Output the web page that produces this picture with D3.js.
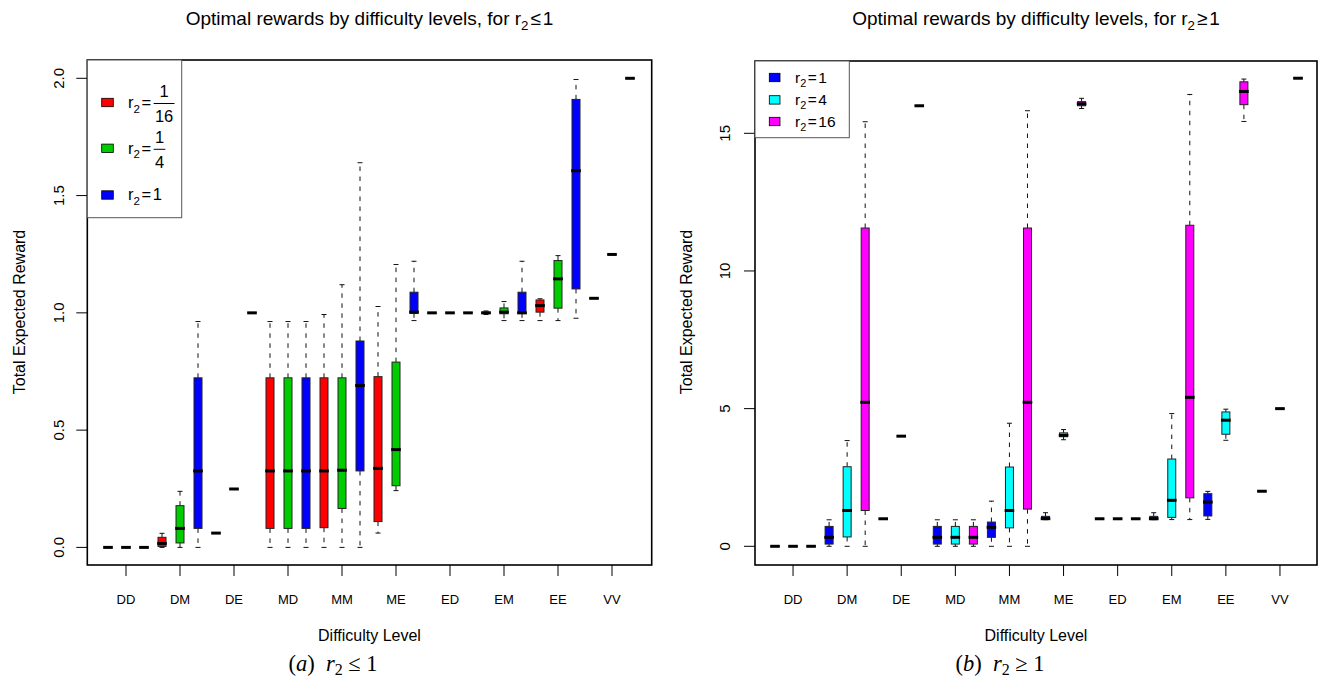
<!DOCTYPE html>
<html><head><meta charset="utf-8">
<script src="https://cdn.jsdelivr.net/npm/d3@7"></script>
<style>
body{margin:0;background:#fff}
svg{display:block}
text{font-family:"Liberation Sans",Arial,Helvetica,sans-serif;fill:#000}
</style>
</head><body>
<svg id="chart" width="1322" height="682"></svg>
<script>
// ---------------- DATA ----------------
const categories = ["DD","DM","DE","MD","MM","ME","ED","EM","EE","VV"];
// each row: [lower whisker, Q1, median, Q3, upper whisker], one row per category
const r2_1_16 = [
  [0,0,0,0,0],
  [0,0.004,0.017,0.043,0.06],
  [0.061,0.061,0.061,0.061,0.061],
  [0,0.081,0.326,0.723,0.963],
  [0,0.084,0.326,0.723,0.993],
  [0.061,0.11,0.337,0.728,1.027],
  [1,1,1,1,1],
  [0.993,0.997,1.0,1.003,1.008],
  [0.967,1.003,1.031,1.055,1.06],
  [1.062,1.062,1.062,1.062,1.062]
];
const r2_1_4 = [
  [0,0,0,0,0],
  [0,0.019,0.081,0.178,0.239],
  [0.249,0.249,0.249,0.249,0.249],
  [0,0.081,0.326,0.723,0.963],
  [0,0.166,0.329,0.723,1.12],
  [0.242,0.263,0.417,0.79,1.206],
  [1,1,1,1,1],
  [0.967,0.996,1.003,1.021,1.048],
  [0.967,1.02,1.145,1.223,1.244],
  [1.249,1.249,1.249,1.249,1.249]
];
const r2_1 = [
  [0,0,0,0,0],
  [0,0.081,0.326,0.723,0.963],
  [1,1,1,1,1],
  [0,0.081,0.326,0.723,0.963],
  [0,0.326,0.69,0.88,1.64],
  [0.967,0.998,1.003,1.088,1.22],
  [1,1,1,1,1],
  [0.967,0.998,1.0,1.088,1.22],
  [0.977,1.102,1.606,1.91,1.995],
  [2,2,2,2,2]
];
const r2_4 = [
  [0,0,0,0,0],
  [0,0.34,1.30,2.89,3.84],
  [4,4,4,4,4],
  [0,0.081,0.326,0.723,0.963],
  [0,0.67,1.30,2.88,4.47],
  [3.87,3.98,4.03,4.12,4.24],
  [1,1,1,1,1],
  [0.97,1.05,1.67,3.17,4.82],
  [3.85,4.07,4.58,4.88,4.98],
  [5,5,5,5,5]
];
const r2_16 = [
  [0,0,0,0,0],
  [0,1.30,5.23,11.56,15.42],
  [16,16,16,16,16],
  [0,0.081,0.326,0.723,0.963],
  [0,1.35,5.23,11.56,15.82],
  [15.9,16.0,16.07,16.15,16.27],
  [1,1,1,1,1],
  [0.97,1.76,5.41,11.66,16.41],
  [15.43,16.04,16.52,16.87,16.97],
  [17,17,17,17,17]
];
const leftNames = ["1/16","1/4","1"];
const rightNames = ["1","4","16"];
const leftColors = ["#ff0000","#00cd00","#0000ff"];
const rightColors = ["#0000ff","#00ffff","#ff00ff"];
const leftYTicks = [0,0.5,1,1.5,2];
const rightYTicks = [0,5,10,15];

// ---------------- DRAWING ----------------
const svg = d3.select("#chart");

function r2Text(sel, fs, rel, value){
  sel.append("tspan").text("r");
  sel.append("tspan").attr("font-size",fs*0.7).attr("dy",fs*0.28).text("2");
  sel.append("tspan").attr("dy",-fs*0.28).attr("dx",fs*0.1).text(rel);
  if(value!==null) sel.append("tspan").attr("dx",fs*0.1).text(value);
  return sel;
}

function drawPanel(p){
  const g = svg.append("g");
  const F = p.frame;
  const x = d3.scaleLinear().domain([1,30]).range(p.boxX);
  const y = d3.scaleLinear().domain(p.yDomain).range(p.yRange);
  const bw = 8;

  // boxes
  p.series.forEach((data,s)=>{
    data.forEach((st,c)=>{
      const cx = x(c*3+s+1);
      const [lo,q1,md,q3,hi] = st;
      const bg = g.append("g");
      if(hi>q3) bg.append("line").attr("x1",cx).attr("x2",cx).attr("y1",y(q3)).attr("y2",y(hi))
        .attr("stroke","#111").attr("stroke-width",1).attr("stroke-dasharray","4.5,5.5");
      if(q1>lo) bg.append("line").attr("x1",cx).attr("x2",cx).attr("y1",y(q1)).attr("y2",y(lo))
        .attr("stroke","#111").attr("stroke-width",1).attr("stroke-dasharray","4.5,5.5");
      [lo,hi].forEach(v=>bg.append("line").attr("x1",cx-2.5).attr("x2",cx+2.5).attr("y1",y(v)).attr("y2",y(v))
        .attr("stroke","#111").attr("stroke-width",1));
      bg.append("rect").attr("x",cx-bw/2).attr("width",bw)
        .attr("y",y(q3)).attr("height",Math.max(0.01,y(q1)-y(q3)))
        .attr("fill",p.colors[s]).attr("stroke","#222").attr("stroke-width",1);
      bg.append("line").attr("x1",cx-4.8).attr("x2",cx+4.8).attr("y1",y(md)).attr("y2",y(md))
        .attr("stroke","#000").attr("stroke-width",3);
    });
  });

  // frame
  g.append("rect").attr("x",F.x0).attr("y",F.y0).attr("width",F.x1-F.x0).attr("height",F.y1-F.y0)
    .attr("fill","none").attr("stroke","#000").attr("stroke-width",1.6);

  // y axis
  const yt = g.append("g");
  p.yTicks.forEach(v=>{
    yt.append("line").attr("x1",F.x0-11).attr("x2",F.x0).attr("y1",y(v)).attr("y2",y(v)).attr("stroke","#000").attr("stroke-width",1);
    yt.append("text").attr("x",p.yLabelX).attr("y",y(v)).attr("transform",`rotate(-90,${p.yLabelX},${y(v)})`)
      .attr("text-anchor","middle").attr("font-size",15).text(p.fmt(v));
  });
  g.append("text").attr("x",p.yTitleX).attr("y",312).attr("transform",`rotate(-90,${p.yTitleX},312)`)
    .attr("text-anchor","middle").attr("font-size",16).text("Total Expected Reward");

  // x axis
  categories.forEach((cat,c)=>{
    const cx = x(c*3+2);
    g.append("line").attr("x1",cx).attr("x2",cx).attr("y1",F.y1).attr("y2",F.y1+11).attr("stroke","#000").attr("stroke-width",1);
    g.append("text").attr("x",cx).attr("y",604).attr("text-anchor","middle").attr("font-size",13).text(cat);
  });
  g.append("text").attr("x",(F.x0+F.x1)/2).attr("y",641).attr("text-anchor","middle").attr("font-size",16).text("Difficulty Level");

  // title
  const t = g.append("text").attr("x",(F.x0+F.x1)/2).attr("y",25).attr("text-anchor","middle").attr("font-size",19);
  t.append("tspan").text("Optimal rewards by difficulty levels, for ");
  r2Text(t,19,p.rel,"1");

  // caption
  const cap = g.append("text").attr("x",p.capX).attr("y",671).attr("text-anchor","middle")
    .style("font-family","'Liberation Serif','DejaVu Serif',serif").attr("font-size",22.5);
  cap.append("tspan").text("(");
  cap.append("tspan").attr("font-style","italic").text(p.capLetter);
  cap.append("tspan").text(")\u2002");
  cap.append("tspan").attr("font-style","italic").text("r");
  cap.append("tspan").attr("font-size",16).attr("dy",4).text("2");
  cap.append("tspan").attr("dy",-4).text(" " + p.rel + " 1");

  // legend
  const L = p.legend;
  const lg = g.append("g");
  lg.append("rect").attr("x",F.x0).attr("y",F.y0).attr("width",L.w).attr("height",L.h)
    .attr("fill","#fff").attr("stroke","#555").attr("stroke-width",1);
  p.names.forEach((nm,i)=>{
    const cy = L.rows[i];
    lg.append("rect").attr("x",L.sqX).attr("y",cy-4.2).attr("width",L.sqW).attr("height",8.4)
      .attr("fill",p.colors[i]).attr("stroke","#000").attr("stroke-width",0.8);
    const fs = L.fs;
    const isFrac = nm.includes("/");
    const txt = lg.append("text").attr("x",L.txtX).attr("y",cy+fs*0.33).attr("font-size",fs);
    r2Text(txt,fs,"=",isFrac?null:nm);
    if(isFrac){
      const [num,den] = nm.split("/");
      const bb = txt.node().getBBox();
      const bx0 = bb.x+bb.width+fs*0.15;
      const dw = Math.max(num.length,den.length)*fs*0.556+fs*0.15;
      const barY = cy+1;
      lg.append("line").attr("x1",bx0).attr("x2",bx0+dw).attr("y1",barY).attr("y2",barY).attr("stroke","#000").attr("stroke-width",1);
      lg.append("text").attr("x",bx0+dw/2).attr("y",barY-fs*0.4).attr("text-anchor","middle").attr("font-size",fs).text(num);
      lg.append("text").attr("x",bx0+dw/2).attr("y",barY+fs*1.12).attr("text-anchor","middle").attr("font-size",fs).text(den);
    }
  });
}

drawPanel({
  frame:{x0:87.3,x1:651.7,y0:60,y1:565},
  boxX:[108,630],
  yDomain:[0,2], yRange:[547.4,78.3],
  yTicks:leftYTicks, fmt:d3.format(".1f"),
  yLabelX:64, yTitleX:25,
  series:[r2_1_16,r2_1_4,r2_1], colors:leftColors, names:leftNames,
  rel:"\u2264", capLetter:"a", capX:333,
  legend:{w:94.4,h:157.7,rows:[102.5,148.3,195],sqX:101.7,sqW:11.6,txtX:128,fs:16.5}
});
drawPanel({
  frame:{x0:755,x1:1317,y0:61,y1:565},
  boxX:[775,1298],
  yDomain:[0,15], yRange:[546.3,133.3],
  yTicks:rightYTicks, fmt:d3.format("d"),
  yLabelX:730, yTitleX:692,
  series:[r2_1,r2_4,r2_16], colors:rightColors, names:rightNames,
  rel:"\u2265", capLetter:"b", capX:1000,
  legend:{w:94.3,h:76.7,rows:[77.5,99.9,121.5],sqX:769.3,sqW:10.7,txtX:795,fs:15.5}
});
</script>
</body></html>
